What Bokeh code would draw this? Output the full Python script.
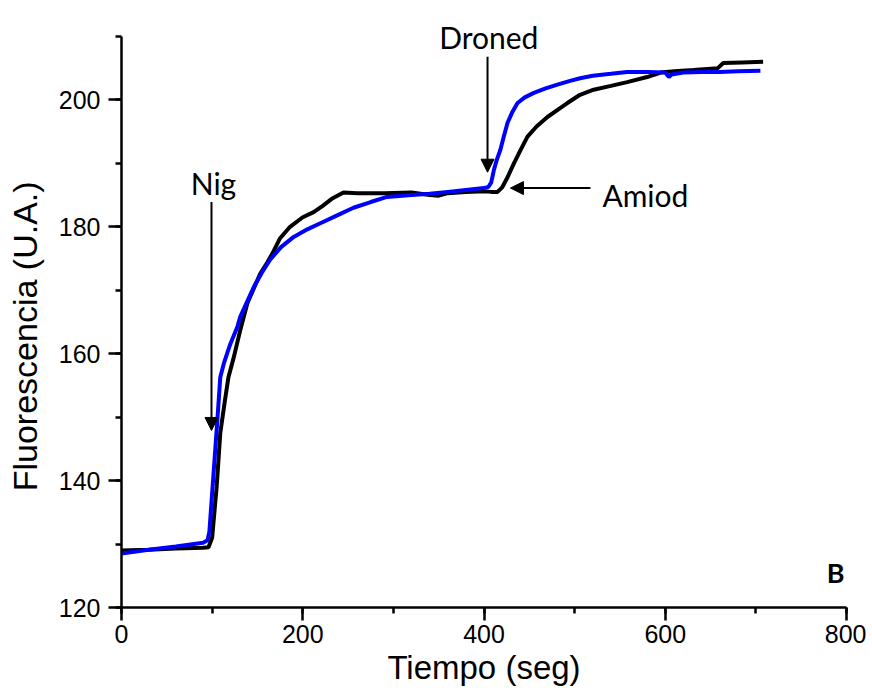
from bokeh.plotting import figure
from bokeh.models import Range1d, SingleIntervalTicker, Arrow, NormalHead, Label
from bokeh.embed import file_html
from bokeh.resources import INLINE

# ---- data ----
black_t = [0, 30, 60, 90, 96, 100, 105, 109, 114, 118, 124, 131, 139, 146, 153, 161,
           168, 175, 186, 200, 212, 222, 232, 245, 260, 290, 320, 340, 350, 360, 380,
           400, 408, 415, 420, 426, 433, 440, 448, 458, 470, 484, 492, 506, 521, 540,
           558, 580, 595, 610, 631, 658, 664, 685, 708]
black_f = [129.0, 129.1, 129.3, 129.4, 129.5, 131.0, 139.0, 147.5, 152.5, 156.3, 159.5,
           163.7, 168.0, 170.3, 172.6, 174.4, 176.2, 178.2, 180.0, 181.5, 182.3, 183.3,
           184.4, 185.4, 185.3, 185.3, 185.4, 185.0, 184.9, 185.3, 185.5, 185.6, 185.5,
           185.5, 186.2, 187.8, 190.0, 192.0, 194.2, 195.8, 197.3, 198.7, 199.5, 200.8,
           201.6, 202.2, 202.8, 203.6, 204.3, 204.5, 204.7, 205.0, 205.8, 205.9, 206.0]

blue_t = [0, 30, 60, 90, 95, 97, 102, 106, 109, 113, 120, 128, 131, 138, 146, 155, 164,
          176, 190, 205, 220, 238, 256, 275, 293, 320, 340, 360, 380, 400, 405, 408, 411,
          414, 418, 422, 426, 431, 437, 445, 455, 468, 481, 495, 506, 520, 540, 558, 580,
          600, 604, 607, 620, 640, 660, 680, 705]
blue_f = [128.5, 129.1, 129.6, 130.2, 130.6, 132.0, 142.0, 150.0, 156.3, 158.5, 161.5,
          164.3, 165.8, 168.0, 170.5, 172.8, 174.8, 176.8, 178.4, 179.6, 180.6, 181.8,
          183.0, 183.9, 184.7, 185.0, 185.2, 185.5, 185.8, 186.1, 186.3, 187.0, 189.0,
          190.5, 192.1, 194.3, 196.4, 198.0, 199.5, 200.4, 201.1, 201.8, 202.4, 203.0,
          203.4, 203.8, 204.1, 204.4, 204.4, 204.3, 203.6, 204.0, 204.3, 204.4, 204.4,
          204.5, 204.6]

x_ticks_interval = 200
y_ticks_interval = 20
x_title = "Tiempo (seg)"
y_title = "Fluorescencia (U.A.)"

# annotations: (text, x, y)
nig_label = ("Nig", 101.5, 186.9)
nig_arrow = (99.3, 183.9, 99.3, 147.9)
droned_label = ("Droned", 405.3, 209.9)
droned_arrow = (403.9, 206.8, 403.9, 188.6)
amiod_label = ("Amiod", 530.7, 185.0)
amiod_arrow = (517.5, 186.1, 429.2, 186.1)
panel_label = ("B", 787.9, 125.5)

p = figure(width=866, height=693, x_range=Range1d(0, 800), y_range=Range1d(120, 214.4),
           output_backend="svg", toolbar_location=None,
           min_border_left=121, min_border_right=20, min_border_top=8, min_border_bottom=86)
p.outline_line_color = None
p.grid.visible = False
p.background_fill_color = "white"
p.border_fill_color = "white"

p.xaxis.ticker = SingleIntervalTicker(interval=x_ticks_interval, num_minor_ticks=2)
p.yaxis.ticker = SingleIntervalTicker(interval=y_ticks_interval, num_minor_ticks=2)
p.yaxis.bounds = (120, 210)
for ax in (p.xaxis, p.yaxis):
    ax.axis_line_width = 2.5
    ax.axis_line_color = "black"
    ax.major_tick_line_width = 2.5
    ax.minor_tick_line_width = 2.5
    ax.major_tick_line_color = "black"
    ax.minor_tick_line_color = "black"
    ax.major_tick_out = 13
    ax.major_tick_in = 0
    ax.minor_tick_out = 6
    ax.minor_tick_in = 0
    ax.major_label_text_font = "Liberation Sans"
    ax.major_label_text_font_size = "25px"
    ax.major_label_text_color = "black"
    ax.axis_label_text_font = "Liberation Sans"
    ax.axis_label_text_font_style = "normal"
    ax.axis_label_text_color = "black"
p.xaxis.major_label_standoff = 4
p.yaxis.major_label_standoff = 8
p.xaxis.axis_label = x_title
p.xaxis.axis_label_text_font_size = "33px"
p.xaxis.axis_label_standoff = 3
# trailing no-break spaces shift the rotated title down to where the reference has it
p.yaxis.axis_label = y_title + "\u00a0" * 6
p.yaxis.axis_label_text_font_size = "34px"
p.yaxis.axis_label_standoff = 12

p.line(black_t, black_f, line_color="black", line_width=4)
p.line(blue_t, blue_f, line_color="#0000ff", line_width=4)

for (x0, y0, x1, y1) in (nig_arrow, droned_arrow, amiod_arrow):
    p.add_layout(Arrow(end=NormalHead(size=13, fill_color="black", line_color="black"),
                       x_start=x0, y_start=y0, x_end=x1, y_end=y1,
                       line_width=2, line_color="black"))

for (txt, x, y), align in ((nig_label, "center"), (droned_label, "center"), (amiod_label, "left")):
    p.add_layout(Label(x=x, y=y, text=txt, text_font="Lato", text_font_size="30px",
                       text_color="black", text_align=align, text_baseline="alphabetic"))
p.add_layout(Label(x=panel_label[1], y=panel_label[2], text=panel_label[0], text_font="Lato",
                   text_font_size="27px", text_font_style="bold", text_color="black",
                   text_align="center", text_baseline="alphabetic"))

open("out.html", "w").write(file_html(p, INLINE))
